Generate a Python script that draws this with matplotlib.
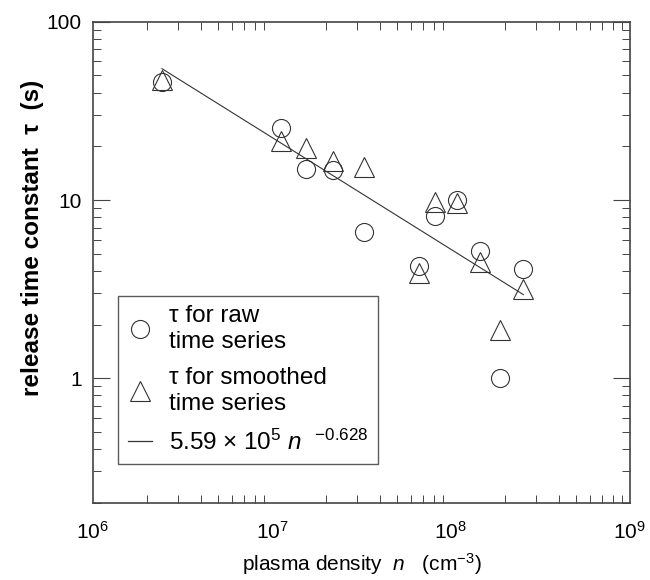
import numpy as np
import matplotlib
matplotlib.use("Agg")
import matplotlib.pyplot as plt
from matplotlib.lines import Line2D
from matplotlib.ticker import LogLocator, NullFormatter

# ---- data ----
density = [2.43e6, 1.13e7, 1.56e7, 2.2e7, 3.27e7, 6.62e7, 8.15e7, 1.08e8, 1.45e8, 1.88e8, 2.54e8]
tau_raw = [46, 25.5, 15.0, 14.7, 6.6, 4.25, 8.1, 10.0, 5.2, 1.0, 4.1]
tau_smooth = [47, 21.5, 19.5, 16.5, 15.3, 3.9, 9.8, 9.6, 4.5, 1.87, 3.15]
fit_coef = 5.59e5
fit_exp = -0.628
ytick_vals = [1, 10, 100]
ytick_labels = ["1", "10", "100"]
legend_labels = ["\u03c4 for raw\ntime series",
                 "\u03c4 for smoothed\ntime series",
                 r"5.59 $\times$ 10$^{5}$ $n$  $^{-0.628}$"]

plt.rcParams['font.family'] = ['Liberation Sans', 'DejaVu Sans']
plt.rcParams['mathtext.fontset'] = 'custom'
plt.rcParams['mathtext.rm'] = 'Liberation Sans'
plt.rcParams['mathtext.it'] = 'Liberation Sans:italic'
plt.rcParams['mathtext.bf'] = 'Liberation Sans:bold'

fig = plt.figure(figsize=(6.5, 5.8), dpi=100)
ax = fig.add_axes([0.143, 0.1333, 0.826, 0.829])

ax.set_xscale('log')
ax.set_yscale('log')

mk_col = '#333333'
ax.plot(density, tau_raw, linestyle='none', marker='o', markersize=13,
        markerfacecolor='none', markeredgecolor=mk_col, markeredgewidth=0.8)
ax.plot(density, tau_smooth, linestyle='none', marker='^', markersize=14,
        markerfacecolor='none', markeredgecolor=mk_col, markeredgewidth=0.8)
n_fit = np.array([min(density), max(density)])
ax.plot(n_fit, fit_coef * n_fit ** fit_exp, color='#333333', lw=0.8)

ax.set_xlim(1e6, 1e9)
ax.set_ylim(0.2, 100)

ax.set_yticks(ytick_vals)
ax.set_yticklabels(ytick_labels)
ax.xaxis.set_minor_locator(LogLocator(base=10, subs=np.arange(2, 10)))
ax.yaxis.set_minor_locator(LogLocator(base=10, subs=np.arange(2, 10)))
ax.xaxis.set_minor_formatter(NullFormatter())
ax.yaxis.set_minor_formatter(NullFormatter())

ax.tick_params(axis='both', which='both', direction='in', top=True, right=True,
               labelsize=15, color='#444444')
ax.tick_params(axis='y', which='major', length=12, width=0.8, pad=8)
ax.tick_params(axis='x', which='major', length=0, pad=13)
ax.tick_params(axis='both', which='minor', length=6, width=0.7)

for sp in ax.spines.values():
    sp.set_color('#444444')
    sp.set_linewidth(1.2)

ax.set_ylabel("release time constant  \u03c4  (s)", fontsize=17.5, fontweight='bold', labelpad=4)
ax.yaxis.set_label_coords(-0.092, 0.55)
ax.set_xlabel(r"plasma density  $n$   (cm$^{-3}$)", fontsize=15, labelpad=6)

handles = [
    Line2D([], [], linestyle='none', marker='o', markersize=13, markerfacecolor='none',
           markeredgecolor=mk_col, markeredgewidth=0.8),
    Line2D([], [], linestyle='none', marker='^', markersize=14, markerfacecolor='none',
           markeredgecolor=mk_col, markeredgewidth=0.8),
    Line2D([], [], color='#333333', lw=0.9),
]
leg = ax.legend(handles, legend_labels, loc='lower left', bbox_to_anchor=(0.047, 0.08),
                fontsize=17.5, frameon=True, fancybox=False, handlelength=1.0,
                handletextpad=0.7, borderpad=0.4, labelspacing=0.6, borderaxespad=0)
for t in leg.get_texts():
    t.set_linespacing(1.2)
leg.get_frame().set_edgecolor('#333333')
leg.get_frame().set_linewidth(1.0)

fig.savefig("out.png", dpi=100)
